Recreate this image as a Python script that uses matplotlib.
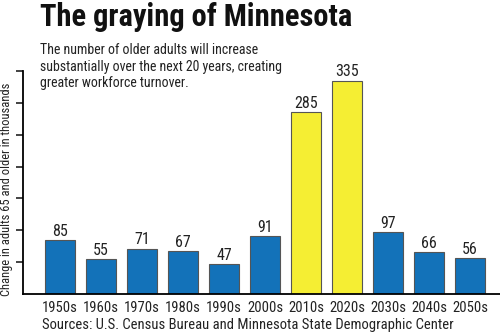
import matplotlib.pyplot as plt
from matplotlib import font_manager

decades = ["1950s", "1960s", "1970s", "1980s", "1990s", "2000s",
           "2010s", "2020s", "2030s", "2040s", "2050s"]
change = [85, 55, 71, 67, 47, 91, 285, 335, 97, 66, 56]
highlight = ["2010s", "2020s"]

blue = "#1372b9"
yellow = "#f5ee33"

names = {f.name for f in font_manager.fontManager.ttflist}
narrow = "Roboto Condensed" if "Roboto Condensed" in names else "DejaVu Sans"
plt.rcParams['font.family'] = [narrow, 'DejaVu Sans']

fig = plt.figure(figsize=(5, 3.36), dpi=100)
W, H = 500, 336
# axes: left spine x=23, right x=500, baseline y=294, top y=71
ax = fig.add_axes([23 / W, 1 - 294 / H, 477 / W, 223 / H])

colors = [yellow if d in highlight else blue for d in decades]
x = range(len(decades))
ax.bar(x, change, width=0.73, color=colors, edgecolor="#555555",
       linewidth=0.8, zorder=2)
for xi, v in zip(x, change):
    ax.text(xi, v + 2, str(v), ha="center", va="bottom", fontsize=11.5,
            color="#222222")

ax.set_xlim(-0.9, len(decades) - 0.27)
ax.set_ylim(0, 350)
ax.set_yticks(range(50, 351, 50))
ax.set_yticklabels([])
ax.tick_params(axis="y", direction="out", length=5, width=1.2, color="#222222")
ax.set_xticks(list(x))
ax.set_xticklabels(decades, fontsize=10.5, color="#222222")
ax.tick_params(axis="x", length=0, pad=5)
for s in ["top", "right"]:
    ax.spines[s].set_visible(False)
ax.spines["left"].set_linewidth(1.3)
ax.spines["bottom"].set_linewidth(1.3)
ax.set_ylabel("Change in adults 65 and older in thousands", fontsize=9,
              color="#222222")
ax.yaxis.set_label_coords(-10 / 477, 0.47)

fig.text(40 / W, 1 - 17 / H, "The graying of Minnesota", fontsize=22,
         fontweight="bold", ha="left", va="center", color="#111111")
fig.text(40 / W, 1 - 43 / H,
         "The number of older adults will increase\n"
         "substantially over the next 20 years, creating\n"
         "greater workforce turnover.",
         fontsize=10, ha="left", va="top", linespacing=1.25,
         color="#222222")
fig.text(42 / W, 1 - 325 / H,
         "Sources: U.S. Census Bureau and Minnesota State Demographic Center",
         fontsize=10.5, ha="left", va="center", color="#222222")

fig.savefig("out.png", dpi=100)
